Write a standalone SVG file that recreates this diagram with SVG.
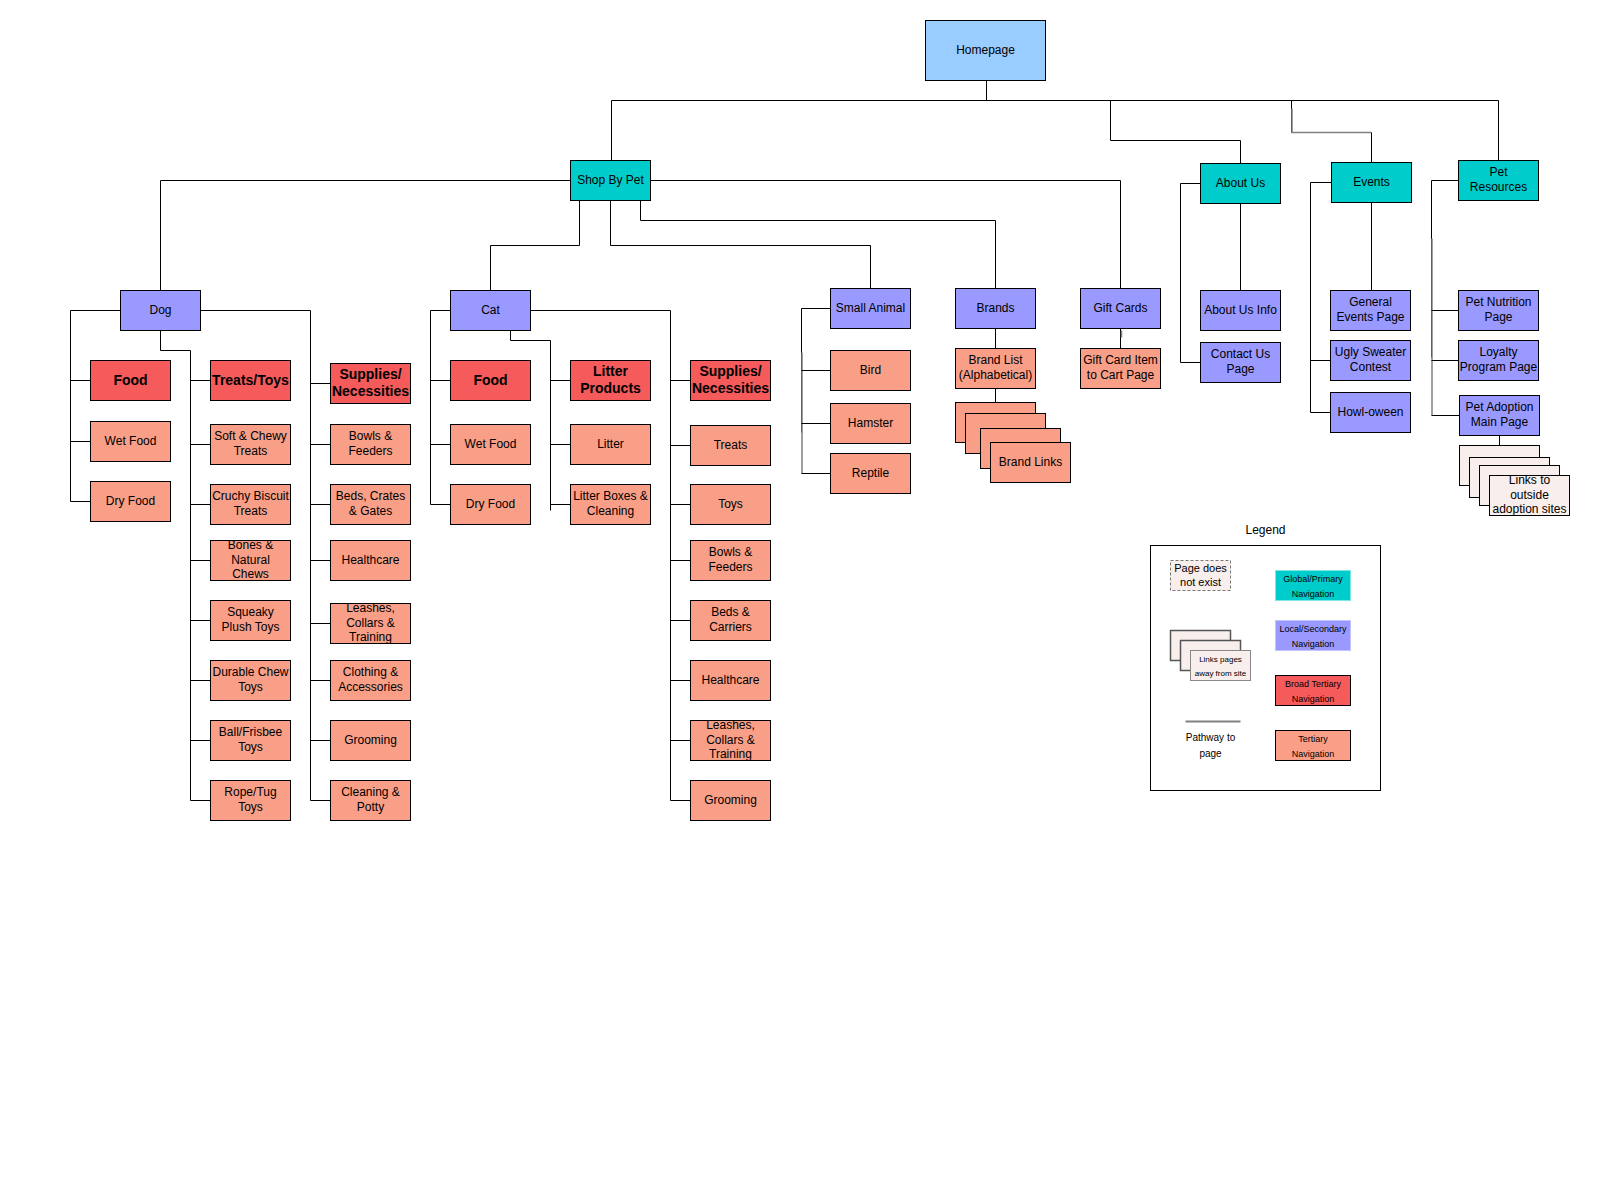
<svg xmlns="http://www.w3.org/2000/svg" width="1600" height="1201" viewBox="0 0 1600 1201">
<style>
text{font-family:"Liberation Sans",Arial,sans-serif;font-size:12px;fill:#000;text-anchor:middle;transform:translateY(-0.8px)}
.b{font-weight:bold;font-size:14px}
rect{stroke:#000;stroke-width:1}
rect.bg{stroke:none;fill:#fff}
.home{fill:#99CCFF}
.glob{fill:#00CCCC}
.loc{fill:#9999FF}
.broad{fill:#F65B5B}
.ter{fill:#F99F87}
.ext{fill:#F8EEEB}
#connectors path{fill:none;stroke:#000;stroke-width:1}
#connectors path.g{stroke:#808080;stroke-width:1.5}
</style>
<rect class="bg" x="0" y="0" width="1600" height="1201"/>
<g transform="translate(0.5 0.5)">
<g id="connectors">
<path d="M986,80 V100"/>
<path d="M611,100 H1498"/>
<path d="M611,100 V160"/>
<path d="M1110,100 V140 H1240 V163"/>
<path d="M1291,100 V132"/>
<path class="g" d="M1291.5,108 V132 H1371"/>
<path d="M1371,132 V162"/>
<path d="M1498,100 V160"/>
<path d="M570,180 H160 V290"/>
<path d="M650,180 H1120 V288"/>
<path d="M579,200 V245 H490 V290"/>
<path d="M610,200 V245 H870 V288"/>
<path d="M640,200 V220 H995 V288"/>
<path d="M120,310 H70 V501 M70,380 H90 M70,441 H90 M70,501 H90"/>
<path d="M160,330 V350 H190 V800 M190,380 H210 M190,444 H210 M190,504 H210 M190,560 H210 M190,620 H210 M190,680 H210 M190,740 H210 M190,800 H210"/>
<path d="M200,310 H310 V800 M310,383 H330 M310,444 H330 M310,504 H330 M310,560 H330 M310,623 H330 M310,680 H330 M310,740 H330 M310,800 H330"/>
<path d="M450,310 H430 V504 M430,380 H450 M430,444 H450 M430,504 H450"/>
<path d="M510,330 V340 H550 V510 M550,380 H570 M550,444 H570 M550,504 H570"/>
<path d="M530,310 H670 V800 M670,380 H690 M670,445 H690 M670,504 H690 M670,560 H690 M670,620 H690 M670,680 H690 M670,740 H690 M670,800 H690"/>
<path d="M830,308 H801 V432"/>
<path class="g" d="M801.5,352 V473"/>
<path d="M801,370 H830 M801,423 H830 M801,473 H830"/>
<path d="M995,328 V348 M995,388 V402"/>
<path d="M1120,328 V348"/>
<path class="g" d="M1121,330 V337"/>
<path d="M1240,203 V290"/>
<path d="M1200,183 H1180 V362 H1200"/>
<path d="M1371,202 V290"/>
<path d="M1331,182 H1310 V412 M1310,360 H1330 M1310,412 H1330"/>
<path d="M1458,180 H1431 V357"/>
<path class="g" d="M1431.5,238 V415"/>
<path d="M1431,310 H1458 M1431,360 H1458 M1431,415 H1459"/>
<path d="M1499,435 V445"/>
</g>

<g id="homepage"><rect class="home" x="925" y="20" width="120" height="60"/><text x="985" y="54">Homepage</text></g>
<g id="shop-by-pet"><rect class="glob" x="570" y="160" width="80" height="40"/><text x="610" y="184">Shop By Pet</text></g>
<g id="about-us"><rect class="glob" x="1200" y="163" width="80" height="40"/><text x="1240" y="187">About Us</text></g>
<g id="events"><rect class="glob" x="1331" y="162" width="80" height="40"/><text x="1371" y="186">Events</text></g>
<g id="pet-resources"><rect class="glob" x="1458" y="160" width="80" height="40"/><text><tspan x="1498" y="176.8">Pet</tspan><tspan x="1498" y="191.2">Resources</tspan></text></g>

<g id="dog"><rect class="loc" x="120" y="290" width="80" height="40"/><text x="160" y="314">Dog</text></g>
<g id="cat"><rect class="loc" x="450" y="290" width="80" height="40"/><text x="490" y="314">Cat</text></g>
<g id="small-animal"><rect class="loc" x="830" y="288" width="80" height="40"/><text x="870" y="312">Small Animal</text></g>
<g id="brands"><rect class="loc" x="955" y="288" width="80" height="40"/><text x="995" y="312">Brands</text></g>
<g id="gift-cards"><rect class="loc" x="1080" y="288" width="80" height="40"/><text x="1120" y="312">Gift Cards</text></g>
<g id="about-us-info"><rect class="loc" x="1200" y="290" width="80" height="40"/><text x="1240" y="314">About Us Info</text></g>
<g id="contact-us"><rect class="loc" x="1200" y="342" width="80" height="40"/><text><tspan x="1240" y="358.8">Contact Us</tspan><tspan x="1240" y="373.2">Page</tspan></text></g>
<g id="general-events"><rect class="loc" x="1330" y="290" width="80" height="40"/><text><tspan x="1370" y="306.8">General</tspan><tspan x="1370" y="321.2">Events Page</tspan></text></g>
<g id="ugly-sweater"><rect class="loc" x="1330" y="340" width="80" height="40"/><text><tspan x="1370" y="356.8">Ugly Sweater</tspan><tspan x="1370" y="371.2">Contest</tspan></text></g>
<g id="howl-oween"><rect class="loc" x="1330" y="392" width="80" height="40"/><text x="1370" y="416">Howl-oween</text></g>
<g id="pet-nutrition"><rect class="loc" x="1458" y="290" width="80" height="40"/><text><tspan x="1498" y="306.8">Pet Nutrition</tspan><tspan x="1498" y="321.2">Page</tspan></text></g>
<g id="loyalty"><rect class="loc" x="1458" y="340" width="80" height="40"/><text><tspan x="1498" y="356.8">Loyalty</tspan><tspan x="1498" y="371.2">Program Page</tspan></text></g>
<g id="pet-adoption"><rect class="loc" x="1459" y="395" width="80" height="40"/><text><tspan x="1499" y="411.8">Pet Adoption</tspan><tspan x="1499" y="426.2">Main Page</tspan></text></g>

<g id="dog-food"><rect class="broad" x="90" y="360" width="80" height="40"/><text class="b" x="130" y="385">Food</text></g>
<g id="dog-wet-food"><rect class="ter" x="90" y="421" width="80" height="40"/><text x="130" y="445">Wet Food</text></g>
<g id="dog-dry-food"><rect class="ter" x="90" y="481" width="80" height="40"/><text x="130" y="505">Dry Food</text></g>
<g id="dog-treats-toys"><rect class="broad" x="210" y="360" width="80" height="40"/><text class="b" x="250" y="385">Treats/Toys</text></g>
<g id="dog-soft-chewy"><rect class="ter" x="210" y="424" width="80" height="40"/><text><tspan x="250" y="440.8">Soft &amp; Chewy</tspan><tspan x="250" y="455.2">Treats</tspan></text></g>
<g id="dog-crunchy"><rect class="ter" x="210" y="484" width="80" height="40"/><text><tspan x="250" y="500.8">Cruchy Biscuit</tspan><tspan x="250" y="515.2">Treats</tspan></text></g>
<g id="dog-bones"><rect class="ter" x="210" y="540" width="80" height="40"/><text><tspan x="250" y="549.6">Bones &amp;</tspan><tspan x="250" y="564">Natural</tspan><tspan x="250" y="578.4">Chews</tspan></text></g>
<g id="dog-squeaky"><rect class="ter" x="210" y="600" width="80" height="40"/><text><tspan x="250" y="616.8">Squeaky</tspan><tspan x="250" y="631.2">Plush Toys</tspan></text></g>
<g id="dog-durable"><rect class="ter" x="210" y="660" width="80" height="40"/><text><tspan x="250" y="676.8">Durable Chew</tspan><tspan x="250" y="691.2">Toys</tspan></text></g>
<g id="dog-ball"><rect class="ter" x="210" y="720" width="80" height="40"/><text><tspan x="250" y="736.8">Ball/Frisbee</tspan><tspan x="250" y="751.2">Toys</tspan></text></g>
<g id="dog-rope"><rect class="ter" x="210" y="780" width="80" height="40"/><text><tspan x="250" y="796.8">Rope/Tug</tspan><tspan x="250" y="811.2">Toys</tspan></text></g>
<g id="dog-supplies"><rect class="broad" x="330" y="363" width="80" height="40"/><text class="b"><tspan x="370" y="379.6">Supplies/</tspan><tspan x="370" y="396.4">Necessities</tspan></text></g>
<g id="dog-bowls"><rect class="ter" x="330" y="424" width="80" height="40"/><text><tspan x="370" y="440.8">Bowls &amp;</tspan><tspan x="370" y="455.2">Feeders</tspan></text></g>
<g id="dog-beds"><rect class="ter" x="330" y="484" width="80" height="40"/><text><tspan x="370" y="500.8">Beds, Crates</tspan><tspan x="370" y="515.2">&amp; Gates</tspan></text></g>
<g id="dog-healthcare"><rect class="ter" x="330" y="540" width="80" height="40"/><text x="370" y="564">Healthcare</text></g>
<g id="dog-leashes"><rect class="ter" x="330" y="603" width="80" height="40"/><text><tspan x="370" y="612.6">Leashes,</tspan><tspan x="370" y="627">Collars &amp;</tspan><tspan x="370" y="641.4">Training</tspan></text></g>
<g id="dog-clothing"><rect class="ter" x="330" y="660" width="80" height="40"/><text><tspan x="370" y="676.8">Clothing &amp;</tspan><tspan x="370" y="691.2">Accessories</tspan></text></g>
<g id="dog-grooming"><rect class="ter" x="330" y="720" width="80" height="40"/><text x="370" y="744">Grooming</text></g>
<g id="dog-cleaning"><rect class="ter" x="330" y="780" width="80" height="40"/><text><tspan x="370" y="796.8">Cleaning &amp;</tspan><tspan x="370" y="811.2">Potty</tspan></text></g>

<g id="cat-food"><rect class="broad" x="450" y="360" width="80" height="40"/><text class="b" x="490" y="385">Food</text></g>
<g id="cat-wet-food"><rect class="ter" x="450" y="424" width="80" height="40"/><text x="490" y="448">Wet Food</text></g>
<g id="cat-dry-food"><rect class="ter" x="450" y="484" width="80" height="40"/><text x="490" y="508">Dry Food</text></g>
<g id="cat-litter-products"><rect class="broad" x="570" y="360" width="80" height="40"/><text class="b"><tspan x="610" y="376.6">Litter</tspan><tspan x="610" y="393.4">Products</tspan></text></g>
<g id="cat-litter"><rect class="ter" x="570" y="424" width="80" height="40"/><text x="610" y="448">Litter</text></g>
<g id="cat-litter-boxes"><rect class="ter" x="570" y="484" width="80" height="40"/><text><tspan x="610" y="500.8">Litter Boxes &amp;</tspan><tspan x="610" y="515.2">Cleaning</tspan></text></g>
<g id="cat-supplies"><rect class="broad" x="690" y="360" width="80" height="40"/><text class="b"><tspan x="730" y="376.6">Supplies/</tspan><tspan x="730" y="393.4">Necessities</tspan></text></g>
<g id="cat-treats"><rect class="ter" x="690" y="425" width="80" height="40"/><text x="730" y="449">Treats</text></g>
<g id="cat-toys"><rect class="ter" x="690" y="484" width="80" height="40"/><text x="730" y="508">Toys</text></g>
<g id="cat-bowls"><rect class="ter" x="690" y="540" width="80" height="40"/><text><tspan x="730" y="556.8">Bowls &amp;</tspan><tspan x="730" y="571.2">Feeders</tspan></text></g>
<g id="cat-beds"><rect class="ter" x="690" y="600" width="80" height="40"/><text><tspan x="730" y="616.8">Beds &amp;</tspan><tspan x="730" y="631.2">Carriers</tspan></text></g>
<g id="cat-healthcare"><rect class="ter" x="690" y="660" width="80" height="40"/><text x="730" y="684">Healthcare</text></g>
<g id="cat-leashes"><rect class="ter" x="690" y="720" width="80" height="40"/><text><tspan x="730" y="729.6">Leashes,</tspan><tspan x="730" y="744">Collars &amp;</tspan><tspan x="730" y="758.4">Training</tspan></text></g>
<g id="cat-grooming"><rect class="ter" x="690" y="780" width="80" height="40"/><text x="730" y="804">Grooming</text></g>

<g id="bird"><rect class="ter" x="830" y="350" width="80" height="40"/><text x="870" y="374">Bird</text></g>
<g id="hamster"><rect class="ter" x="830" y="403" width="80" height="40"/><text x="870" y="427">Hamster</text></g>
<g id="reptile"><rect class="ter" x="830" y="453" width="80" height="40"/><text x="870" y="477">Reptile</text></g>
<g id="brand-list"><rect class="ter" x="955" y="348" width="80" height="40"/><text><tspan x="995" y="364.8">Brand List</tspan><tspan x="995" y="379.2">(Alphabetical)</tspan></text></g>
<g id="brand-links">
<rect class="ter" x="955" y="402" width="80" height="40"/>
<rect class="ter" x="965" y="413" width="80" height="40"/>
<rect class="ter" x="980" y="428" width="80" height="40"/>
<rect class="ter" x="990" y="442" width="80" height="40"/>
<text x="1030" y="466">Brand Links</text></g>
<g id="gift-card-item"><rect class="ter" x="1080" y="348" width="80" height="40"/><text><tspan x="1120" y="364.8">Gift Card Item</tspan><tspan x="1120" y="379.2">to Cart Page</tspan></text></g>
<g id="adoption-links">
<rect class="ext" x="1459" y="445" width="80" height="40"/>
<rect class="ext" x="1469" y="457" width="80" height="40"/>
<rect class="ext" x="1479" y="465" width="80" height="40"/>
<rect class="ext" x="1489" y="475" width="80" height="40"/>
<text><tspan x="1529" y="484.6">Links to</tspan><tspan x="1529" y="499">outside</tspan><tspan x="1529" y="513.4">adoption sites</tspan></text></g>

<g id="legend">
<text x="1265" y="534">Legend</text>
<rect x="1150" y="545" width="230" height="245" fill="#fff"/>
<rect class="ext" x="1170" y="560" width="60" height="30" style="stroke:#777;stroke-dasharray:3 2"/>
<text style="font-size:11px"><tspan x="1200" y="572.2">Page does</tspan><tspan x="1200" y="586.2">not exist</tspan></text>
<rect class="glob" x="1275" y="570" width="75" height="30" style="stroke:#7FE6E6"/>
<text style="font-size:9px"><tspan x="1312.5" y="581.9">Global/Primary</tspan><tspan x="1312.5" y="596.9">Navigation</tspan></text>
<rect class="loc" x="1275" y="620" width="75" height="30" style="stroke:#C4C4FF"/>
<text style="font-size:9px"><tspan x="1312.5" y="631.9">Local/Secondary</tspan><tspan x="1312.5" y="646.9">Navigation</tspan></text>
<rect class="broad" x="1275" y="675" width="75" height="30"/>
<text style="font-size:9px"><tspan x="1312.5" y="686.9">Broad Tertiary</tspan><tspan x="1312.5" y="701.9">Navigation</tspan></text>
<rect class="ter" x="1275" y="730" width="75" height="30"/>
<text style="font-size:9px"><tspan x="1312.5" y="741.9">Tertiary</tspan><tspan x="1312.5" y="756.9">Navigation</tspan></text>
<rect class="ext" x="1170" y="630" width="60" height="30" style="stroke:#555;stroke-width:1.5"/>
<rect class="ext" x="1180" y="640" width="60" height="30" style="stroke:#555;stroke-width:1.5"/>
<rect class="ext" x="1190" y="650" width="60" height="30" style="stroke:#888"/>
<text style="font-size:8px"><tspan x="1220" y="662.5">Links pages</tspan><tspan x="1220" y="676.5">away from site</tspan></text>
<path d="M1185,721 H1240" fill="none" stroke="#808080" stroke-width="2"/>
<text style="font-size:10px"><tspan x="1210" y="741.8">Pathway to</tspan><tspan x="1210" y="757.2">page</tspan></text>
</g>
</g>
</svg>
